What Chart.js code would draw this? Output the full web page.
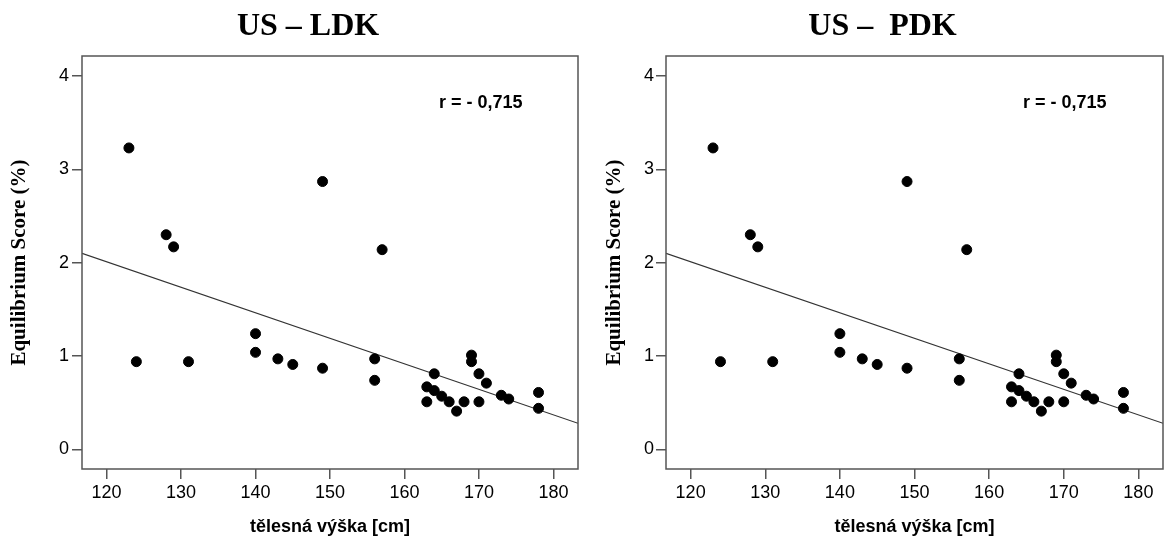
<!DOCTYPE html>
<html>
<head>
<meta charset="utf-8">
<script src="https://cdn.jsdelivr.net/npm/chart.js@4.4.1/dist/chart.umd.min.js"></script>
<style>
    html, body { margin: 0; padding: 0; background: #fff; }
    #wrap { position: relative; width: 1164px; height: 542px; }
    canvas { position: absolute; top: 0; }
</style>
</head>
<body>
<div id="wrap">
    <canvas id="leftCanvas" width="582" height="542" style="left:0"></canvas>
    <canvas id="rightCanvas" width="582" height="542" style="left:582px"></canvas>
</div>
<script>
// body height (cm) and equilibrium score (%)
const heights = [123, 128, 129, 124, 131, 140, 140, 143, 145, 149, 149, 156, 156, 157,
    163, 163, 164, 164, 165, 166, 167, 168, 169, 169, 170, 170, 171, 173, 174, 178, 178];
const scores = [3.23, 2.30, 2.17, 0.94, 0.94, 1.24, 1.04, 0.97, 0.91, 2.87, 0.87, 0.97, 0.74, 2.14,
    0.67, 0.51, 0.81, 0.63, 0.57, 0.51, 0.41, 0.51, 1.01, 0.94, 0.81, 0.51, 0.71, 0.58, 0.54, 0.61, 0.44];

// fit line end points
const fitX = [116.7, 183.3];
const fitY = [2.10, 0.28];

const xTicks = [120, 130, 140, 150, 160, 170, 180];
const yTicks = [0, 1, 2, 3, 4];
const xRange = [116.7, 183.3];
const yRange = [-0.21, 4.215];

const corrLabel = 'r = - 0,715';
const xTitle = 'tělesná výška [cm]';
const yTitle = 'Equilibrium Score (%)';

const axisColor = '#555';

const boxAndText = {
    id: 'boxAndText',
    afterDraw(chart, args, opts) {
        const { ctx, chartArea } = chart;
        ctx.save();
        ctx.strokeStyle = axisColor;
        ctx.lineWidth = 1.5;
        ctx.strokeRect(chartArea.left, chartArea.top, chartArea.right - chartArea.left, chartArea.bottom - chartArea.top);

        ctx.fillStyle = '#000';
        ctx.textAlign = 'center';
        ctx.textBaseline = 'alphabetic';
        ctx.font = 'bold 32px "Liberation Serif"';
        ctx.fillText(opts.title, opts.titleX, 35);

        ctx.textAlign = 'left';
        ctx.font = 'bold 18px "Liberation Sans"';
        ctx.fillText(corrLabel, chartArea.left + 357, 108);
        ctx.restore();
    }
};

function makeChart(canvasId, setup) {
    const ctx = document.getElementById(canvasId).getContext('2d');
    return new Chart(ctx, {
        type: 'scatter',
        data: {
            datasets: [
                {
                    data: heights.map((h, i) => ({ x: h, y: scores[i] })),
                    backgroundColor: '#000',
                    borderColor: '#000',
                    pointRadius: 5,
                    pointHoverRadius: 5
                },
                {
                    type: 'line',
                    data: fitX.map((x, i) => ({ x: x, y: fitY[i] })),
                    borderColor: '#333',
                    borderWidth: 1.2,
                    pointRadius: 0,
                    fill: false
                }
            ]
        },
        options: {
            responsive: false,
            animation: false,
            layout: {
                autoPadding: false,
                padding: { top: 56, right: 582 - setup.plotRight, left: 0, bottom: 0 }
            },
            plugins: {
                legend: { display: false },
                tooltip: { enabled: false },
                boxAndText: { title: setup.title, titleX: setup.titleX }
            },
            scales: {
                x: {
                    type: 'linear',
                    min: xRange[0],
                    max: xRange[1],
                    afterBuildTicks: scale => { scale.ticks = xTicks.map(v => ({ value: v })); },
                    afterFit: scale => { scale.height = 73; },
                    border: { display: false },
                    grid: { drawOnChartArea: false, drawTicks: true, tickLength: 10, color: axisColor, lineWidth: 1.5 },
                    ticks: { color: '#000', padding: 3, font: { family: 'Liberation Sans', size: 18 } },
                    title: {
                        display: true,
                        text: xTitle,
                        color: '#000',
                        padding: { top: 0, bottom: 4.5 },
                        font: { family: 'Liberation Sans', size: 18, weight: 'bold' }
                    }
                },
                y: {
                    type: 'linear',
                    min: yRange[0],
                    max: yRange[1],
                    afterBuildTicks: scale => { scale.ticks = yTicks.map(v => ({ value: v })); },
                    afterFit: scale => { scale.width = setup.plotLeft; },
                    border: { display: false },
                    grid: { drawOnChartArea: false, drawTicks: true, tickLength: 10, color: axisColor, lineWidth: 1.5 },
                    ticks: { color: '#000', padding: setup.yTickPad, font: { family: 'Liberation Sans', size: 18 } },
                    title: {
                        display: true,
                        text: yTitle,
                        color: '#000',
                        padding: { top: setup.yTitlePad, bottom: 0 },
                        font: { family: 'Liberation Serif', size: 21, weight: 'bold' }
                    }
                }
            }
        },
        plugins: [boxAndText]
    });
}

makeChart('leftCanvas', { title: 'US – LDK', titleX: 308, plotLeft: 82, plotRight: 578, yTickPad: 3, yTitlePad: 6.5 });
makeChart('rightCanvas', { title: 'US –  PDK', titleX: 300.5, plotLeft: 84, plotRight: 581, yTickPad: 2, yTitlePad: 20 });
</script>
</body>
</html>
